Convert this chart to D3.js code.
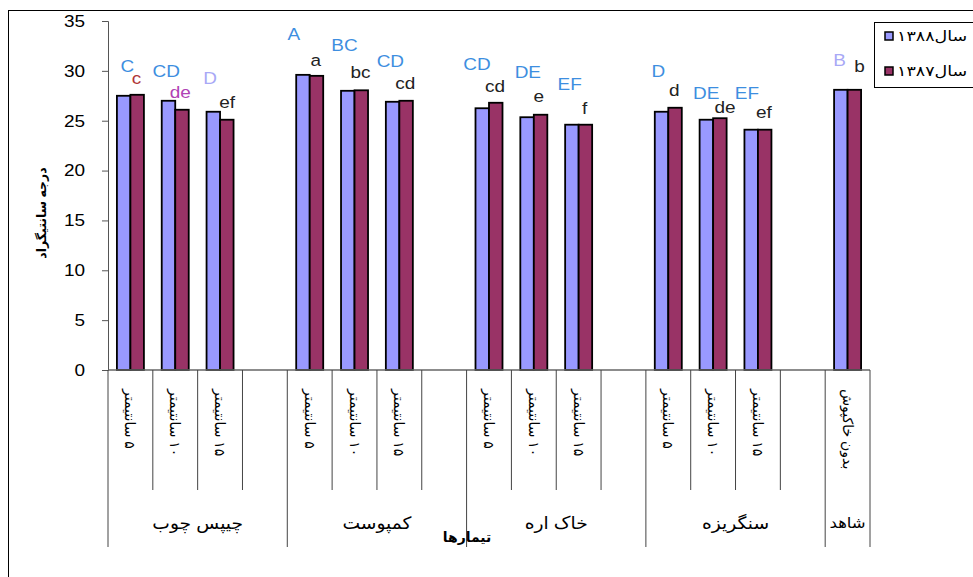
<!DOCTYPE html>
<html>
<head>
<meta charset="utf-8">
<script src="https://cdn.jsdelivr.net/npm/d3@7"></script>
<style>
  body { margin: 0; background: #fff; }
  text { font-family: "Liberation Sans", Arial, "DejaVu Sans", sans-serif; }
</style>
</head>
<body>
<svg id="chart" width="973" height="577"></svg>
<script>
// categories along the x axis (empty ones are the gaps between groups)
const categories = ["۵ سانتیمتر", "۱۰ سانتیمتر", "۱۵ سانتیمتر", "",
  "۵ سانتیمتر", "۱۰ سانتیمتر", "۱۵ سانتیمتر", "",
  "۵ سانتیمتر", "۱۰ سانتیمتر", "۱۵ سانتیمتر", "",
  "۵ سانتیمتر", "۱۰ سانتیمتر", "۱۵ سانتیمتر", "",
  "بدون خاکپوش"];
const groupNames = ["چیپس چوب", "کمپوست", "خاک اره", "سنگریزه", "شاهد"];
const groupSizes = [4, 4, 4, 4, 1];
const seriesNames = ["سال۱۳۸۸", "سال۱۳۸۷"];

const values1388 = [27.5, 27.0, 25.9, null, 29.6, 28.0, 26.9, null, 26.25, 25.35, 24.6, null, 25.9, 25.1, 24.1, null, 28.1];
const values1387 = [27.6, 26.1, 25.1, null, 29.5, 28.05, 27.0, null, 26.8, 25.6, 24.6, null, 26.3, 25.25, 24.1, null, 28.1];

// significance letters and the height (in degrees) they sit at
const letters1388 = ["C", "CD", "D", null, "A", "BC", "CD", null, "CD", "DE", "EF", null, "D", "DE", "EF", null, "B"];
const letters1387 = ["c", "de", "ef", null, "a", "bc", "cd", null, "cd", "e", "f", null, "d", "de", "ef", null, "b"];
const letterLevel1388 = [29.9, 29.4, 28.7, null, 33.1, 32.0, 30.4, null, 30.1, 29.3, 28.1, null, 29.4, 27.2, 27.2, null, 30.5];
const letterLevel1387 = [28.7, 27.3, 26.3, null, 30.5, 29.3, 28.2, null, 27.9, 26.9, 25.7, null, 27.5, 25.8, 25.3, null, 29.9];

const yTicks = [0, 5, 10, 15, 20, 25, 30, 35];

// layout / style
const upperDx = [-3, -9, -10, 0, -16, -10, -9, 0, -12, -6, -9, 0, -10, -7, -11, 0, -8];
const lowerDx = [6, 5, 7, 0, 6, 6, 6, 0, 6, 5, 6, 0, 6, 12, 6, 0, 12];
const upperColors = ["#3d8ee0", "#3d8ee0", "#a8a8f6", null, "#3d8ee0", "#3d8ee0", "#3d8ee0", null,
  "#3d8ee0", "#3d8ee0", "#3d8ee0", null, "#3d8ee0", "#3d8ee0", "#3d8ee0", null, "#a8a8f6"];
const lowerColors = ["#b03535", "#b042b5", "#222", null, "#222", "#222", "#222", null,
  "#222", "#222", "#222", null, "#222", "#222", "#222", null, "#222"];
const barColors = ["#9999ff", "#993366"];
const stretch = 1.15; // excel text is a bit wider than liberation sans

let svg = d3.select("#chart");
let plotLeft = 108, plotRight = 870, plotTop = 21, plotBottom = 370;

// outer frame
svg.append("rect").attr("x", 8.5).attr("y", 10.5).attr("width", 1000).attr("height", 700)
  .attr("fill", "none").attr("stroke", "#000").attr("stroke-width", 1);

let x = d3.scaleBand().domain(d3.range(categories.length)).range([plotLeft, plotRight]);
let xs = d3.scaleBand().domain([0, 1]).range([0, x.bandwidth()]).paddingOuter(0.66);
let y = d3.scaleLinear().domain([0, 35]).range([plotBottom, plotTop]);

// y axis
let yAxis = svg.append("g").attr("transform", "translate(" + plotLeft + ",0)")
  .call(d3.axisLeft(y).tickValues(yTicks).tickSize(6).tickPadding(17));
yAxis.select(".domain").attr("stroke", "#555");
yAxis.selectAll(".tick line").attr("stroke", "#555");
yAxis.selectAll("text").attr("font-size", 16.5).attr("fill", "#000")
  .attr("font-family", "Liberation Sans, Arial, sans-serif")
  .attr("x", -23 / stretch)
  .attr("transform", "scale(" + stretch + ",1)");

svg.append("text")
  .attr("transform", "translate(42,213) rotate(-90)")
  .attr("text-anchor", "middle").attr("dominant-baseline", "central")
  .attr("font-size", 12.5).attr("font-weight", "bold")
  .attr("font-family", "DejaVu Sans, sans-serif")
  .style("direction", "rtl")
  .text("درجه سانتیگراد");

// bars
let series = [values1388, values1387];
series.forEach(function(vals, s){
  svg.append("g").selectAll("rect")
    .data(vals.map(function(v, i){ return {v: v, i: i}; }).filter(function(d){ return d.v != null; }))
    .enter().append("rect")
    .attr("x", function(d){ return x(d.i) + xs(s); })
    .attr("y", function(d){ return y(d.v); })
    .attr("width", xs.bandwidth())
    .attr("height", function(d){ return y(0) - y(d.v); })
    .attr("fill", barColors[s])
    .attr("stroke", "#000").attr("stroke-width", 1.8);
});

// x axis line and category dividers
svg.append("line").attr("x1", plotLeft).attr("x2", plotRight).attr("y1", plotBottom).attr("y2", plotBottom)
  .attr("stroke", "#666").attr("stroke-width", 1.5);

let groupStarts = [];
let acc = 0;
groupSizes.forEach(function(n){ groupStarts.push(acc); acc += n; });

for (let i = 0; i <= categories.length; i++) {
  let px = i < categories.length ? x(i) : plotRight;
  let isGroup = groupStarts.includes(i) || i == categories.length;
  svg.append("line").attr("x1", px).attr("x2", px)
    .attr("y1", plotBottom).attr("y2", isGroup ? 547 : 490)
    .attr("stroke", "#444").attr("stroke-width", 1);
}

// category labels (rotated)
svg.append("g").selectAll("text")
  .data(categories.map(function(c, i){ return {c: c, i: i}; }).filter(function(d){ return d.c; }))
  .enter().append("text")
  .attr("transform", function(d){ return "translate(" + (x(d.i) + x.bandwidth() / 2) + ",389) rotate(90)"; })
  .attr("text-anchor", "end")
  .attr("dominant-baseline", "central")
  .attr("font-size", 14)
  .style("direction", "rtl")
  .attr("font-family", "DejaVu Sans, sans-serif")
  .text(function(d){ return d.c; });

// group labels
groupNames.forEach(function(g, k){
  let a = x(groupStarts[k]);
  let b = groupStarts[k] + groupSizes[k] < categories.length ? x(groupStarts[k] + groupSizes[k]) : plotRight;
  svg.append("text")
    .attr("transform", "translate(" + ((a + b) / 2) + ",523) scale(1.1,1)")
    .attr("text-anchor", "middle").attr("dominant-baseline", "central")
    .attr("font-size", k == 4 ? 15 : 17).style("direction", "rtl")
    .attr("font-family", "DejaVu Sans, sans-serif")
    .text(g);
});

svg.append("text")
  .attr("x", 467).attr("y", 537)
  .attr("text-anchor", "middle").attr("dominant-baseline", "central")
  .attr("font-size", 14).attr("font-weight", "bold").style("direction", "rtl")
  .attr("font-family", "DejaVu Sans, sans-serif")
  .text("تیمارها");

// letters
function drawLetters(letters, levels, dx, colors){
  svg.append("g").selectAll("text")
    .data(letters.map(function(l, i){ return {l: l, i: i}; }).filter(function(d){ return d.l; }))
    .enter().append("text")
    .attr("transform", function(d){
      return "translate(" + (x(d.i) + x.bandwidth() / 2 + dx[d.i]) + "," + y(levels[d.i]) + ") scale(" + stretch + ",1)";
    })
    .attr("text-anchor", "middle")
    .attr("font-size", 16.5)
    .attr("fill", function(d){ return colors[d.i]; })
    .text(function(d){ return d.l; });
}
drawLetters(letters1388, letterLevel1388, upperDx, upperColors);
drawLetters(letters1387, letterLevel1387, lowerDx, lowerColors);

// legend
let legend = svg.append("g");
legend.append("rect").attr("x", 874.5).attr("y", 22.5).attr("width", 120).attr("height", 65)
  .attr("fill", "#fff").attr("stroke", "#000");
seriesNames.forEach(function(name, s){
  let ly = 36 + s * 35;
  legend.append("rect").attr("x", 885).attr("y", ly - 4).attr("width", 8).attr("height", 8)
    .attr("fill", barColors[s]).attr("stroke", "#000").attr("stroke-width", 1.5);
  legend.append("text").attr("transform", "translate(897," + ly + ") scale(1.25,1)")
    .attr("text-anchor", "end").attr("dominant-baseline", "central")
    .attr("font-size", 14).style("direction", "rtl")
    .attr("font-family", "DejaVu Sans, sans-serif")
    .text(name);
});
</script>
</body>
</html>
